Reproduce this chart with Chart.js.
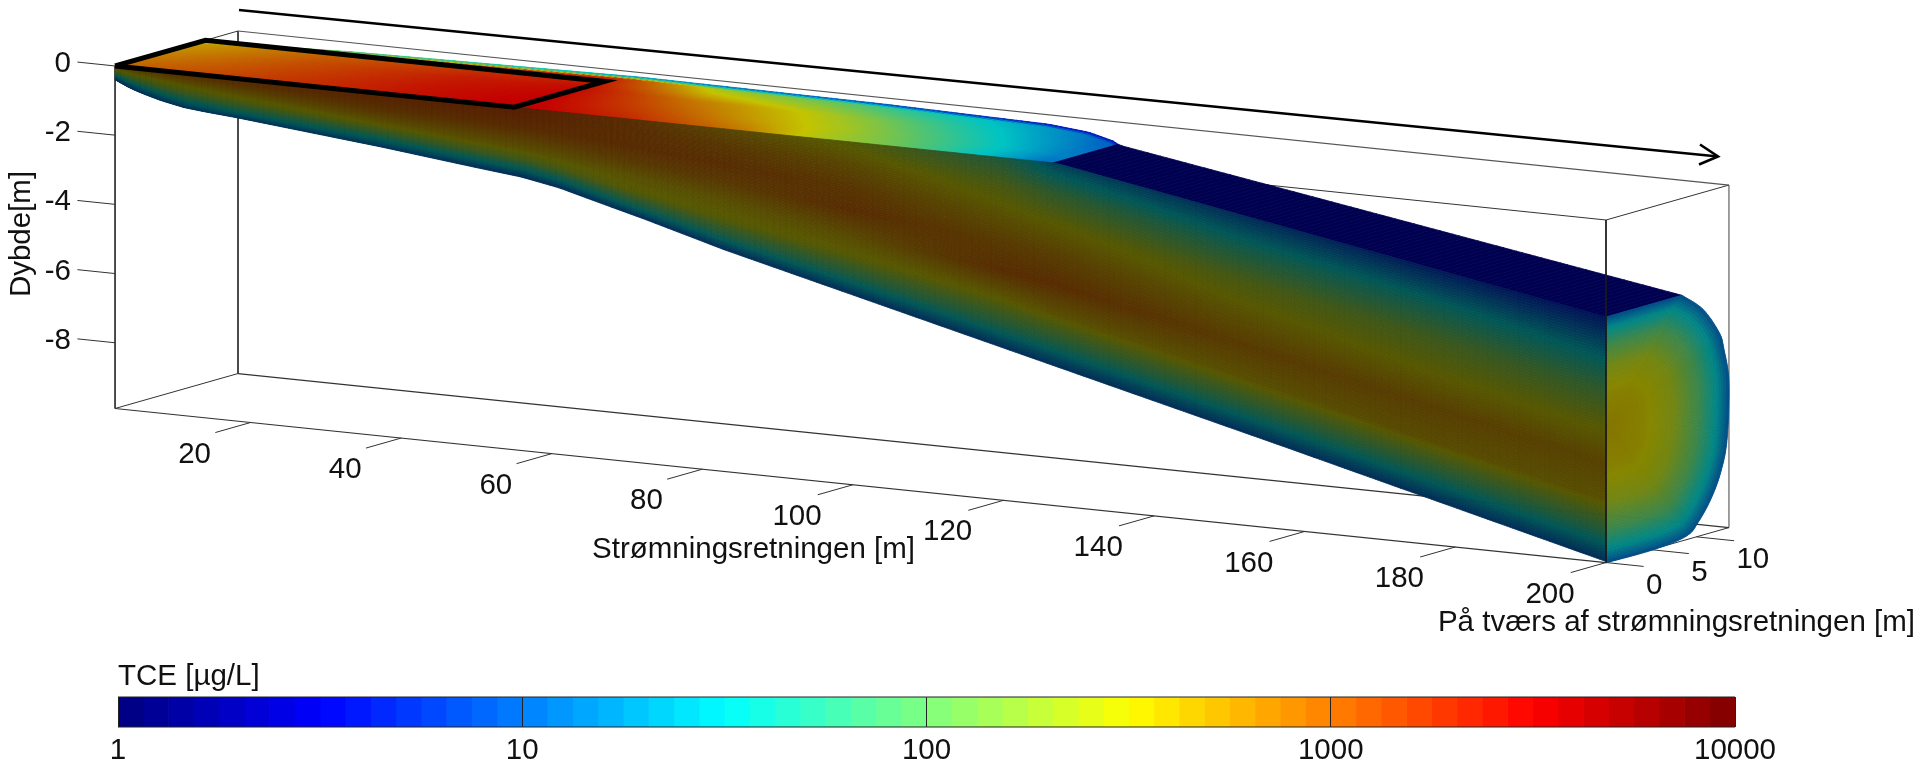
<!DOCTYPE html>
<html>
<head>
<meta charset="utf-8">
<title>TCE plume</title>
<style>
    html, body { margin: 0; padding: 0; background: #fff; }
    canvas { position: absolute; left: 0; top: 0; }
</style>
<script src="https://cdn.jsdelivr.net/npm/chart.js@4"></script>
</head>
<body>
<canvas id="plumeChart" width="1917" height="763"></canvas>
<canvas id="barChart" width="1917" height="763"></canvas>
<script>
// axis ticks
const xTicks = [20, 40, 60, 80, 100, 120, 140, 160, 180, 200];
const yTicks = [0, 5, 10];
const zTicks = [0, -2, -4, -6, -8];
const colorTicks = [1, 10, 100, 1000, 10000];

// box limits in metres
const boxX = [2, 200];
const boxY = [0, 13.6];
const boxZ = [0, -9.9];

// outline of the plume, metres
const bottomX = [2, 4, 5.7, 8, 11.2, 14, 18, 37, 50, 56, 61, 66, 72, 83, 120, 157, 200];
const bottomZ = [-0.4, -0.6, -0.72, -0.86, -1.0, -1.06, -1.13, -1.54, -1.86, -2.0, -2.2, -2.49, -2.83, -3.5, -5.5, -7.5, -9.87];
const topEdgeX = [2, 127, 200];
const topEdgeZ = [0, 0, -2.8];
const widthX = [2, 20, 57, 90, 113, 119.6, 125, 127, 200];
const widthY = [9.5, 11, 12.3, 11.8, 10.9, 9.8, 8, 7, 8.4];

// log10 TCE on the cut face, one row per station, top to bottom
const faceX = [2, 18, 37, 56, 70, 83, 100, 120, 127, 150, 175, 200];
const faceBands = [0, 0.15, 0.3, 0.45, 0.6, 0.75, 0.88, 1];
const faceLog = [
    [3.0, 2.7, 2.5, 2.2, 1.9, 1.5, 1.2, 1.1],
    [3.0, 2.95, 2.75, 2.55, 2.3, 1.9, 1.5, 1.1],
    [3.1, 3.05, 2.95, 2.75, 2.5, 2.0, 1.5, 1.1],
    [3.15, 3.1, 3.0, 2.8, 2.6, 2.2, 1.55, 1.0],
    [3.0, 3.0, 3.0, 2.85, 2.6, 2.45, 1.75, 1.0],
    [2.7, 2.9, 3.0, 2.85, 2.6, 2.45, 1.8, 1.0],
    [2.4, 2.7, 2.9, 3.0, 2.7, 2.45, 1.8, 1.0],
    [1.8, 2.3, 2.6, 2.85, 3.0, 2.5, 1.85, 1.0],
    [1.2, 2.0, 2.5, 2.8, 3.0, 2.6, 1.85, 1.0],
    [1.0, 1.7, 2.3, 2.6, 2.85, 2.6, 1.85, 1.0],
    [0.8, 1.6, 2.2, 2.5, 2.8, 2.65, 1.85, 1.0],
    [0.7, 1.4, 2.0, 2.45, 2.75, 2.6, 1.85, 1.0]
];

// log10 TCE on the water table, front edge to back edge
const topX = [2, 20, 40, 55, 70, 85, 95, 105, 115, 125];
const topBands = [0, 0.3, 0.6, 0.93, 1];
const topLog = [
    [3.0, 2.9, 2.8, 2.7, 2.6],
    [3.2, 3.15, 3.1, 3.0, 1.8],
    [3.4, 3.4, 3.35, 3.2, 1.5],
    [3.55, 3.5, 3.45, 3.3, 1.2],
    [3.3, 3.1, 2.9, 2.3, 1.0],
    [2.9, 2.65, 2.5, 2.0, 0.9],
    [2.4, 2.35, 2.15, 1.7, 0.8],
    [2.1, 1.95, 1.75, 1.5, 0.7],
    [1.6, 1.55, 1.4, 1.25, 0.6],
    [1.1, 1.15, 1.1, 1.0, 0.6]
];

// end face at x = 200: outline and log10 TCE from centre to rim
const endY = [0, 8.4, 10.7, 12.5, 13.05, 13.6, 13.4, 12.7, 11.6, 10.2, 8.85, 5.25, 0];
const endZ = [-2.8, -2.8, -3.37, -4.17, -4.7, -5.69, -7.33, -8.23, -8.93, -9.49, -9.8, -9.92, -9.91];
const endCentre = [0, -6];
const endRadius = [0, 0.3, 0.55, 0.75, 0.9, 1];
const endLog = [2.62, 2.55, 2.35, 1.95, 1.5, 1.05];

// source area marked on the water table
const sourceX = [2, 55];
const sourceY = [0, 10];

// picture layout
const origin = { x: 100, y: 64.4 };
const perX = { x: 7.53, y: 0.778 };
const perY = { x: 9.04, y: -2.57 };
const perZ = -34.6;
const LINE = '#333333';
const FONT = '29.5px "Liberation Sans"';

function project(x, y, z) {
    return {
        x: origin.x + perX.x * x + perY.x * y,
        y: origin.y + perX.y * x + perY.y * y + perZ * z
    };
}

function lerpTable(xs, ys, v) {
    if (v <= xs[0]) return ys[0];
    for (let i = 1; i < xs.length; i++) {
        if (v <= xs[i]) return ys[i - 1] + (ys[i] - ys[i - 1]) * (v - xs[i - 1]) / (xs[i] - xs[i - 1]);
    }
    return ys[ys.length - 1];
}

function lerpGrid(xs, bands, grid, x, t) {
    const col = bands.map((b, j) => lerpTable(xs, grid.map(r => r[j]), x));
    return lerpTable(bands, col, t);
}

// rounded walk along the end face outline, first edge stays straight
function walkOutline(arr, u) {
    const last = arr.length - 1;
    const i = Math.min(Math.floor(u), last - 1), f = u - i;
    if (i === 0) return arr[0] + (arr[1] - arr[0]) * f;
    const p0 = i === 1 ? arr[1] : arr[i - 1], p1 = arr[i], p2 = arr[i + 1], p3 = arr[Math.min(i + 2, last)];
    return 0.5 * (2 * p1 + (p2 - p0) * f + (2 * p0 - 5 * p1 + 4 * p2 - p3) * f * f + (3 * p1 - p0 - 3 * p2 + p3) * f * f * f);
}

function jet(v, shade) {
    const c = k => Math.round(255 * shade * Math.max(0, Math.min(1, 1.5 - Math.abs(4 * v - k))));
    return `rgb(${c(3)},${c(2)},${c(1)})`;
}

function logColor(log, shade) {
    return jet(Math.max(0, Math.min(1, log / 4)), shade);
}

function line(points, color, width, order) {
    return {
        type: 'scatter', data: points, showLine: true, pointRadius: 0,
        borderColor: color, borderWidth: width, fill: false, tension: 0,
        order: order, clip: false, borderJoinStyle: 'miter'
    };
}

function edge(a, b, color, width, order) {
    return line([project(...a), project(...b)], color, width, order);
}

// plume surfaces are cells coloured by the tables above, placed through the chart scales
function drawCell(ctx, sx, sy, pts, color) {
    ctx.fillStyle = color;
    ctx.strokeStyle = color;
    ctx.beginPath();
    pts.forEach((p, i) => {
        const px = sx.getPixelForValue(p.x), py = sy.getPixelForValue(p.y);
        if (i === 0) ctx.moveTo(px, py); else ctx.lineTo(px, py);
    });
    ctx.closePath();
    ctx.fill();
    ctx.stroke();
}

function drawPlume(chart) {
    const ctx = chart.ctx, sx = chart.scales.x, sy = chart.scales.y;
    const nx = 240, nt = 90;
    ctx.save();
    ctx.lineWidth = 0.8;

    // water table
    for (let i = 0; i < nx; i++) {
        const x0 = boxX[0] + (boxX[1] - boxX[0]) * i / nx;
        const x1 = boxX[0] + (boxX[1] - boxX[0]) * (i + 1) / nx;
        const xm = (x0 + x1) / 2;
        const z0 = lerpTable(topEdgeX, topEdgeZ, x0), z1 = lerpTable(topEdgeX, topEdgeZ, x1);
        const w0 = lerpTable(widthX, widthY, x0), w1 = lerpTable(widthX, widthY, x1);
        const dark = xm > 126.5;
        const steps = dark ? 1 : nt;
        for (let j = 0; j < steps; j++) {
            const t0 = j / steps, t1 = (j + 1) / steps;
            const color = dark ? logColor(0, 0.63) : logColor(lerpGrid(topX, topBands, topLog, xm, (t0 + t1) / 2), 0.77);
            drawCell(ctx, sx, sy, [project(x0, w0 * t0, z0), project(x1, w1 * t0, z1), project(x1, w1 * t1, z1), project(x0, w0 * t1, z0)], color);
        }
    }

    // end face
    const na = 360, nr = 50;
    for (let a = 0; a < na; a++) {
        const u0 = (endY.length - 1) * a / na, u1 = (endY.length - 1) * (a + 1) / na;
        const y0 = walkOutline(endY, u0), y1 = walkOutline(endY, u1);
        const z0 = walkOutline(endZ, u0), z1 = walkOutline(endZ, u1);
        for (let r = 0; r < nr; r++) {
            const r0 = r / nr, r1 = (r + 1) / nr;
            const at = (yy, zz, q) => project(boxX[1], endCentre[0] + (yy - endCentre[0]) * q, endCentre[1] + (zz - endCentre[1]) * q);
            drawCell(ctx, sx, sy, [at(y0, z0, r0), at(y1, z1, r0), at(y1, z1, r1), at(y0, z0, r1)],
                logColor(lerpTable(endRadius, endLog, (r0 + r1) / 2), 0.53));
        }
    }

    // cut face
    for (let i = 0; i < nx; i++) {
        const x0 = boxX[0] + (boxX[1] - boxX[0]) * i / nx;
        const x1 = boxX[0] + (boxX[1] - boxX[0]) * (i + 1) / nx;
        const top0 = lerpTable(topEdgeX, topEdgeZ, x0), top1 = lerpTable(topEdgeX, topEdgeZ, x1);
        const bot0 = lerpTable(bottomX, bottomZ, x0), bot1 = lerpTable(bottomX, bottomZ, x1);
        for (let j = 0; j < nt; j++) {
            const t0 = j / nt, t1 = (j + 1) / nt;
            drawCell(ctx, sx, sy, [
                project(x0, 0, top0 + (bot0 - top0) * t0),
                project(x1, 0, top1 + (bot1 - top1) * t0),
                project(x1, 0, top1 + (bot1 - top1) * t1),
                project(x0, 0, top0 + (bot0 - top0) * t1)
            ], logColor(lerpGrid(faceX, faceBands, faceLog, (x0 + x1) / 2, (t0 + t1) / 2), 0.34));
        }
    }
    ctx.restore();
}

function drawText(chart) {
    const ctx = chart.ctx, sx = chart.scales.x, sy = chart.scales.y;
    const put = (text, x, y, align, rot) => {
        ctx.save();
        ctx.translate(sx.getPixelForValue(x), sy.getPixelForValue(y));
        if (rot) ctx.rotate(rot);
        ctx.textAlign = align;
        ctx.textBaseline = 'middle';
        ctx.fillText(text, 0, 0);
        ctx.restore();
    };
    ctx.save();
    ctx.font = FONT;
    ctx.fillStyle = '#111111';
    xTicks.forEach(v => {
        const p = project(v, boxY[0], boxZ[1]);
        put(String(v), p.x - 56, p.y + 32, 'center');
    });
    yTicks.forEach(v => {
        const p = project(boxX[1], v, boxZ[1]);
        put(String(v), p.x + 40, p.y + 23, 'left');
    });
    zTicks.forEach(v => {
        const p = project(boxX[0], boxY[0], v);
        put(String(v), 71, p.y - 2, 'right');
    });
    put('Dybde[m]', 22, 234, 'center', -Math.PI / 2);
    put('Strømningsretningen [m]', 915, 550, 'right');
    put('På tværs af strømningsretningen [m]', 1915, 623, 'right');
    put('TCE [µg/L]', 118, 677, 'left');
    ctx.restore();
}

const [x0, x1] = boxX, [y0, y1] = boxY, [zTop, zBot] = boxZ;

// drawn behind the plume
const backLines = [
    edge([x0, y0, zTop], [x1, y0, zTop], LINE, 1, 10),
    edge([x0, y1, zTop], [x1, y1, zTop], '#555555', 1.2, 10),
    edge([x0, y0, zTop], [x0, y1, zTop], LINE, 1, 10),
    edge([x1, y0, zTop], [x1, y1, zTop], LINE, 1, 10),
    edge([x0, y0, zBot], [x1, y0, zBot], LINE, 1.2, 10),
    edge([x0, y1, zBot], [x1, y1, zBot], LINE, 1.2, 10),
    edge([x0, y0, zBot], [x0, y1, zBot], LINE, 1, 10),
    edge([x1, y0, zBot], [x1, y1, zBot], LINE, 1, 10),
    edge([x0, y1, zTop], [x0, y1, zBot], LINE, 1, 10),
    edge([x1, y1, zTop], [x1, y1, zBot], '#808080', 1.5, 10),
    edge([x0, y0, zTop], [x0, y0, zBot], LINE, 1, 10)
];
const tickLines = [
    ...xTicks.map(v => edge([v, y0, zBot], [v, y0 - 3.9, zBot], LINE, 1, 10)),
    ...yTicks.map(v => edge([x1, v, zBot], [x1 + 5, v, zBot], LINE, 1, 10)),
    ...zTicks.map(v => edge([x0, y0, v], [x0 - 5, y0, v], LINE, 1, 10))
];

// drawn over the plume
const frontLines = [
    edge([x1, y0, zTop], [x1, y0, zBot], '#1a1a1a', 1, 1),
    line([
        project(sourceX[0], sourceY[0], 0), project(sourceX[1], sourceY[0], 0),
        project(sourceX[1], sourceY[1], 0), project(sourceX[0], sourceY[1], 0),
        project(sourceX[0], sourceY[0], 0)
    ], '#000000', 5, 0),
    line([{ x: 239, y: 10 }, { x: 1718, y: 156.5 }], '#000000', 2.6, 0),
    line([{ x: 1700, y: 144.5 }, { x: 1718, y: 156.5 }, { x: 1699, y: 164.5 }], '#000000', 2.6, 0)
];

new Chart(document.getElementById('plumeChart'), {
    type: 'scatter',
    data: { datasets: [...backLines, ...tickLines, ...frontLines] },
    options: {
        responsive: false,
        animation: false,
        devicePixelRatio: 1,
        layout: { padding: 0 },
        plugins: { legend: { display: false }, tooltip: { enabled: false } },
        scales: {
            x: { type: 'linear', min: 0, max: 1917, display: false },
            y: { type: 'linear', min: 0, max: 763, reverse: true, display: false }
        }
    },
    plugins: [{
        id: 'plumeSurfaces',
        beforeDatasetDraw(chart, args) {
            // frontLines have the lowest order, so the surfaces go in just before them
            if (args.meta.order === 1) drawPlume(chart);
        },
        afterDatasetsDraw: drawText
    }]
});

// colour bar: 64 jet cells on a log axis
const colorCells = 64;
const cellDatasets = [];
for (let i = 0; i < colorCells; i++) {
    cellDatasets.push({
        data: [[Math.pow(10, 4 * i / colorCells), Math.pow(10, 4 * (i + 1) / colorCells)]],
        backgroundColor: jet((i + 0.5) / colorCells, 1),
        borderWidth: 0,
        barPercentage: 1,
        categoryPercentage: 1,
        grouped: false
    });
}

new Chart(document.getElementById('barChart'), {
    type: 'bar',
    data: { labels: ['TCE'], datasets: cellDatasets },
    options: {
        indexAxis: 'y',
        responsive: false,
        animation: false,
        devicePixelRatio: 1,
        layout: { padding: { left: 118, right: 182, top: 697, bottom: 0 } },
        plugins: { legend: { display: false }, tooltip: { enabled: false } },
        scales: {
            x: {
                type: 'logarithmic', min: 1, max: 10000,
                afterBuildTicks(scale) { scale.ticks = colorTicks.map(v => ({ value: v })); },
                afterFit(scale) { scale.height = 36; },
                grid: { color: '#222222', lineWidth: 1, z: 1, drawTicks: false },
                border: { display: false },
                ticks: {
                    autoSkip: false, maxRotation: 0, minRotation: 0, padding: 6,
                    color: '#111111',
                    font: { family: 'Liberation Sans', size: 29.5 },
                    callback: v => String(v)
                }
            },
            y: { display: false }
        }
    },
    plugins: [{
        id: 'barFrame',
        afterDatasetsDraw(chart) {
            const a = chart.chartArea, ctx = chart.ctx;
            ctx.save();
            ctx.strokeStyle = '#222222';
            ctx.lineWidth = 1;
            ctx.beginPath();
            ctx.moveTo(a.left, a.top);
            ctx.lineTo(a.right, a.top);
            ctx.moveTo(a.left, a.bottom);
            ctx.lineTo(a.right, a.bottom);
            ctx.stroke();
            ctx.restore();
        }
    }]
});
</script>
</body>
</html>
